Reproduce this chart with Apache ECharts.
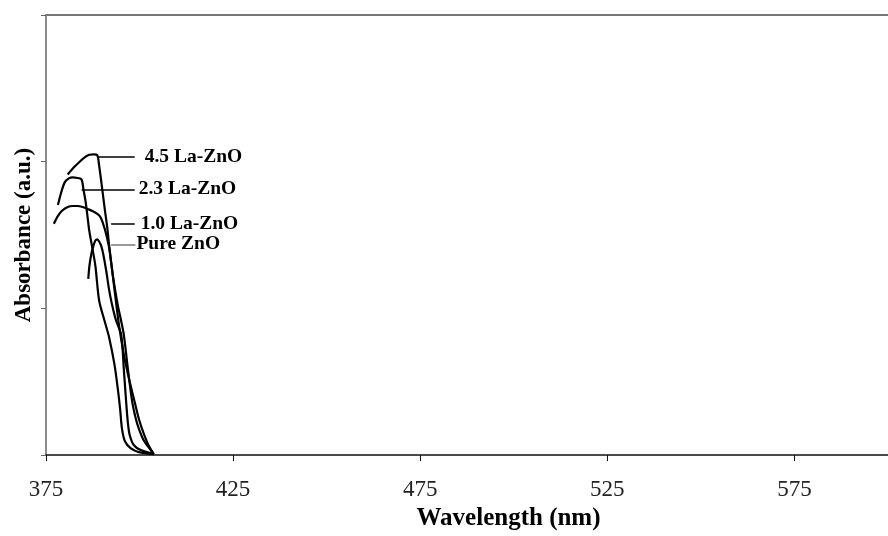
<!DOCTYPE html>
<html>
<head>
<meta charset="utf-8">
<script src="https://cdn.jsdelivr.net/npm/echarts@6/dist/echarts.min.js"></script>
<style>html,body{margin:0;padding:0;background:#fff;}#c{width:888px;height:536px;}</style>
</head>
<body>
<div id="c"></div>
<script>
// Tick labels on the wavelength axis
var xTicks = [375, 425, 475, 525, 575];

// Series names
var seriesNames = ['4.5 La-ZnO', '2.3 La-ZnO', '1.0 La-ZnO', 'Pure ZnO'];

// [wavelength (nm), absorbance (a.u.)]
var la45 = [[380.8,1.913],[382.4,1.960],[384.0,2.000],[385.6,2.034],[386.6,2.047],[387.7,2.050],[388.7,2.044],
  [389.2,1.973],[389.8,1.859],[390.3,1.758],[390.8,1.658],[391.4,1.544],[391.9,1.423],[392.7,1.255],[393.5,1.087],
  [394.5,0.886],[395.8,0.685],[397.2,0.517],[398.5,0.383],[399.8,0.248],[401.1,0.148],[402.4,0.067],[403.8,0.007]];

var la23 = [[378.2,1.705],[379.0,1.785],[380.0,1.859],[381.1,1.886],[382.1,1.893],[383.4,1.889],[384.5,1.879],
  [385.0,1.812],[385.6,1.725],[386.1,1.624],[386.6,1.523],[387.4,1.409],[388.2,1.289],[389.2,1.054],[390.6,0.919],
  [391.9,0.799],[393.3,0.617],[394.2,0.450],[394.8,0.315],[395.3,0.181],[396.1,0.094],[397.6,0.047],[399.8,0.020],[403.8,0.007]];

var la10 = [[377.1,1.577],[378.2,1.631],[379.2,1.664],[380.8,1.691],[382.1,1.698],[383.4,1.698],[384.8,1.691],
  [386.1,1.678],[387.4,1.664],[388.7,1.644],[389.5,1.624],[390.0,1.597],[390.6,1.550],[391.1,1.503],[391.9,1.409],
  [392.7,1.255],[393.5,1.121],[394.3,1.007],[395.1,0.913],[395.8,0.819],[396.9,0.584],[398.0,0.369],[399.0,0.248],
  [399.8,0.181],[401.1,0.101],[402.4,0.054],[403.8,0.007]];

var pure = [[386.3,1.201],[386.6,1.289],[387.1,1.369],[387.7,1.430],[388.2,1.463],[388.7,1.470],[389.2,1.456],
  [389.8,1.423],[390.3,1.369],[391.1,1.255],[391.9,1.121],[392.7,1.020],[393.7,0.919],[395.1,0.819],[395.8,0.584],
  [396.4,0.369],[396.9,0.215],[397.4,0.134],[398.5,0.067],[400.3,0.034],[403.8,0.007]];

// Leader-line anchors in data space: [x start, x end, absorbance]
var leaders = [[388.7,398.7,2.034],[384.5,398.7,1.812],[392.4,398.7,1.577],[392.4,398.9,1.436]];

var serif = "'Liberation Serif','Times New Roman',serif";
var allData = [la45, la23, la10, pure];
var leaderColors = ['#000', '#000', '#000', '#777'];
var labelDist = [10, 4, 6, 1];

var series = allData.map(function (d, i) {
  var L = leaders[i];
  return {
    name: seriesNames[i],
    type: 'line',
    data: d,
    smooth: 0.3,
    showSymbol: false,
    lineStyle: { color: '#000', width: 2.2 },
    markLine: {
      silent: true,
      symbol: 'none',
      animation: false,
      lineStyle: { color: leaderColors[i], width: 1.5, type: 'solid' },
      label: {
        show: true, position: 'end', distance: labelDist[i],
        formatter: seriesNames[i],
        fontFamily: serif, fontWeight: 'bold', fontSize: 19.5, color: '#000'
      },
      data: [[{ coord: [L[0], L[2]] }, { coord: [L[1], L[2]] }]]
    }
  };
});

var chart = echarts.init(document.getElementById('c'), null, { renderer: 'canvas' });
chart.setOption({
  animation: false,
  backgroundColor: '#fff',
  grid: { left: 46, right: -11, top: 15, bottom: 74, containLabel: false },
  xAxis: [{
    type: 'value', min: 375, max: 600,
    name: 'Wavelength (nm)', nameLocation: 'middle', nameGap: 44,
    nameTextStyle: { fontFamily: serif, fontWeight: 'bold', fontSize: 25, color: '#000', padding: [0, 0, 0, 83] },
    axisLine: { lineStyle: { color: '#111', width: 1.5 } },
    axisTick: { show: true, inside: false, length: 6, lineStyle: { color: '#111' }, customValues: xTicks },
    axisLabel: { fontFamily: serif, fontSize: 23, color: '#222', margin: 23, customValues: xTicks },
    splitLine: { show: false }
  }, {
    type: 'value', position: 'top', min: 375, max: 600,
    axisLine: { show: true, lineStyle: { color: '#777', width: 2 } },
    axisTick: { show: false }, axisLabel: { show: false }, splitLine: { show: false }
  }],
  yAxis: {
    type: 'value', min: 0, max: 3, interval: 1,
    name: 'Absorbance (a.u.)', nameLocation: 'middle', nameGap: 10,
    nameTextStyle: { fontFamily: serif, fontWeight: 'bold', fontSize: 23, color: '#000' },
    axisLine: { show: true, lineStyle: { color: '#666', width: 1.5 } },
    axisTick: { show: true, inside: false, length: 5, lineStyle: { color: '#666' } },
    axisLabel: { show: false },
    splitLine: { show: false }
  },
  series: series
});
</script>
</body>
</html>
